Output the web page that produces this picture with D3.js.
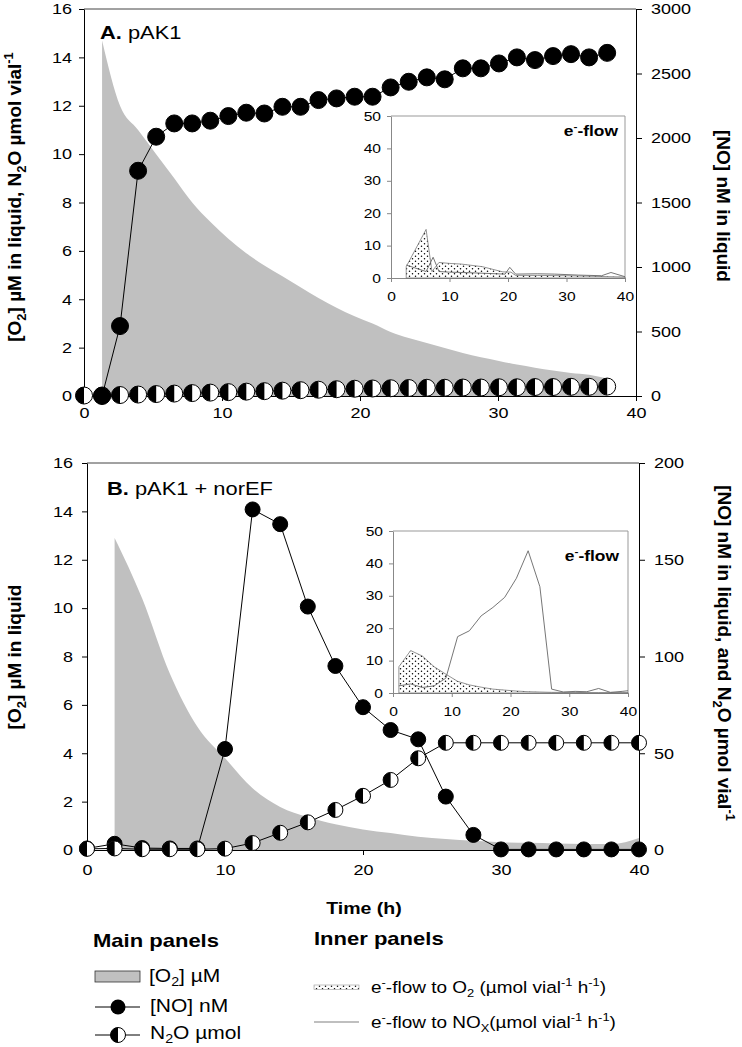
<!DOCTYPE html>
<html><head><meta charset="utf-8">
<script src="https://cdn.jsdelivr.net/npm/d3@7"></script>
<style>body{margin:0;background:#fff}svg{display:block}</style>
</head><body><svg id="c" width="742" height="1047"></svg>
<script>
// ---------- DATA ----------
const xTicks = [0, 10, 20, 30, 40];
const leftTicks = [0, 2, 4, 6, 8, 10, 12, 14, 16];
const rightTicksA = [0, 500, 1000, 1500, 2000, 2500, 3000];
const rightTicksB = [0, 50, 100, 150, 200];
const insetXTicks = [0, 10, 20, 30, 40];
const insetYTicks = [0, 10, 20, 30, 40, 50];

// Panel A (pAK1)
const timeA = [0, 1.31, 2.61, 3.92, 5.23, 6.54, 7.84, 9.15, 10.46, 11.76, 13.07, 14.38, 15.69, 16.99, 18.3,
  19.61, 20.91, 22.22, 23.53, 24.84, 26.14, 27.45, 28.76, 30.07, 31.37, 32.68, 33.99, 35.29, 36.6, 37.91];
const o2TimeA = timeA.slice(1);
const o2A = [14.7, 12.0, 11.0, 10.0, 9.0, 8.0, 7.2, 6.5, 5.9, 5.4, 4.95, 4.5, 4.05, 3.65, 3.3, 3.0, 2.65, 2.4,
  2.19, 1.98, 1.78, 1.6, 1.45, 1.3, 1.17, 1.05, 0.95, 0.88, 0.72];
const noTimeA = timeA.slice(1);
const noA = [0, 542, 1746, 2010, 2113, 2113, 2134, 2170, 2196, 2190, 2242, 2242, 2294, 2307, 2320, 2320, 2392,
  2436, 2470, 2455, 2540, 2540, 2578, 2625, 2604, 2635, 2650, 2625, 2660];
const n2oA = [0.02, 0.02, 0.04, 0.06, 0.08, 0.1, 0.12, 0.14, 0.16, 0.18, 0.2, 0.22, 0.24, 0.26, 0.28, 0.3, 0.31,
  0.32, 0.33, 0.34, 0.34, 0.35, 0.35, 0.36, 0.36, 0.37, 0.37, 0.38, 0.38, 0.39];
// Inset A (e- flow)
const flowO2TimeA = [2.6, 6.0, 7.0, 8.2, 10, 12, 15.6, 19.1, 20.5, 21.3, 25, 30, 35, 40];
const flowO2A = [3.5, 15.0, 2.0, 4.8, 4.5, 4.3, 3.5, 1.9, 1.8, 0.8, 0.8, 0.7, 0.5, 0.3];
const flowNoxTimeA = [2.6, 6.0, 7.2, 8.2, 10, 14, 18, 19.5, 20.3, 21.3, 25, 28, 32, 36, 37.6, 40];
const flowNoxA = [4.0, 2.0, 6.4, 2.0, 1.8, 1.6, 1.3, 1.2, 3.3, 1.2, 1.3, 1.2, 0.9, 0.7, 1.7, 0.4];

// Panel B (pAK1 + norEF)
const timeB = [0, 2, 4, 6, 8, 10, 12, 14, 16, 18, 20, 22, 24, 26, 28, 30, 32, 34, 36, 38, 40];
const o2TimeB = timeB.slice(1);
const o2B = [12.9, 10.4, 7.3, 5.1, 3.8, 2.55, 1.78, 1.36, 1.06, 0.85, 0.7, 0.55, 0.45, 0.38, 0.32, 0.3, 0.27,
  0.25, 0.25, 0.5];
const noB = [0.8, 3.2, 1.0, 0.8, 0.8, 52.2, 176, 168.4, 125.8, 95.1, 73.8, 62.0, 57.2, 27.6, 7.8, 0.3, 0.3, 0.3,
  0.3, 0.3, 0.3];
const n2oB = [0.6, 0.8, 0.4, 0.4, 0.4, 0.7, 3.6, 8.9, 14.3, 20.7, 28.0, 36.2, 47.4, 55.4, 55.4, 55.4, 55.4, 55.4,
  55.4, 55.4, 55.4];
// Inset B (e- flow)
const flowTimeB = [1, 3, 5, 7, 9, 11, 13, 15, 17, 19, 21, 23, 25, 27, 29, 31, 33, 35, 37, 39, 40];
const flowO2B = [8.1, 13.1, 11.4, 8.1, 5.8, 3.6, 2.5, 1.8, 1.2, 0.9, 0.6, 0.4, 0.3, 0.2, 0.2, 0.2, 0.1, 0.1, 0.1,
  0.1, 0.1];
const flowNoxB = [2.2, 2.8, 1.7, 2.2, 4.6, 17.4, 19.2, 23.8, 26.4, 29.5, 35.4, 43.9, 32.8, 1.2, 0.3, 0.5, 0.4, 1.4,
  0.2, 0.5, 0.7];

// ---------- DRAWING ----------
const FONT = '"Liberation Sans", Arial, Helvetica, sans-serif';
const svg = d3.select("#c").attr("font-family", FONT);
const zip = (a, b) => a.map((t, i) => [t, b[i]]);

const defs = svg.append("defs");
const pat = defs.append("pattern").attr("id", "dots").attr("patternUnits", "userSpaceOnUse")
  .attr("width", 6).attr("height", 5);
pat.append("rect").attr("width", 6).attr("height", 5).attr("fill", "#fff");
pat.append("circle").attr("cx", 1.5).attr("cy", 1.2).attr("r", 0.75).attr("fill", "#000");
pat.append("circle").attr("cx", 4.5).attr("cy", 3.7).attr("r", 0.75).attr("fill", "#000");

function richText(parent, segs, fs, opts = {}) {
  const t = parent.append("text").attr("font-size", fs).style("white-space", "pre").attr("fill", "#000");
  if (opts.anchor) t.attr("text-anchor", opts.anchor);
  if (opts.bold) t.attr("font-weight", "bold");
  if (opts.transform) t.attr("transform", opts.transform);
  let shift = 0;
  segs.forEach(s => {
    const target = s.sub ? fs * 0.25 : s.sup ? -fs * 0.4 : 0;
    const sp = t.append("tspan").text(s.t);
    if (target - shift !== 0) sp.attr("dy", target - shift);
    if (s.sub || s.sup) sp.attr("font-size", fs * 0.68);
    if (s.w) sp.attr("font-weight", s.w);
    shift = target;
  });
  return t;
}

function stretchTicks(g, s) {
  g.selectAll(".tick text").each(function () {
    const t = d3.select(this);
    const x = +t.attr("x") || 0;
    t.attr("x", 0).attr("transform", `translate(${x},0) scale(${s},1)`);
  });
}

function styleAxis(g, fs, color) {
  g.attr("font-family", FONT).attr("font-size", fs);
  g.selectAll(".domain").attr("stroke", color);
  g.selectAll(".tick line").attr("stroke", color);
  g.selectAll(".tick text").attr("fill", "#000");
}

function drawNO(g, pts, x, y, r) {
  g.append("path").datum(pts).attr("d", d3.line().x(d => x(d[0])).y(d => y(d[1])))
    .attr("fill", "none").attr("stroke", "#000").attr("stroke-width", 1);
  g.selectAll(null).data(pts).join("circle").attr("cx", d => x(d[0])).attr("cy", d => y(d[1]))
    .attr("r", r).attr("fill", "#000").attr("stroke", "#000");
}
function halfMarker(g, cx, cy, r) {
  const m = g.append("g").attr("transform", `translate(${cx},${cy})`);
  m.append("circle").attr("r", r).attr("fill", "#fff").attr("stroke", "#000").attr("stroke-width", 1);
  m.append("path").attr("d", `M0,${-r}A${r},${r} 0 0 0 0,${r}Z`).attr("fill", "#000");
}
function drawN2O(g, pts, x, y, r) {
  g.append("path").datum(pts).attr("d", d3.line().x(d => x(d[0])).y(d => y(d[1])))
    .attr("fill", "none").attr("stroke", "#000").attr("stroke-width", 1);
  pts.forEach(d => halfMarker(g, x(d[0]), y(d[1]), r));
}

function inset(cfg) {
  const g = svg.append("g");
  const x = d3.scaleLinear().domain([0, 40]).range([cfg.l, cfg.r]);
  const y = d3.scaleLinear().domain([0, 50]).range([cfg.b, cfg.t]);
  const ax = g.append("g").attr("transform", `translate(0,${cfg.b})`)
    .call(d3.axisBottom(x).tickValues(insetXTicks).tickSize(4).tickPadding(10).tickSizeOuter(0));
  const ay = g.append("g").attr("transform", `translate(${cfg.l},0)`)
    .call(d3.axisLeft(y).tickValues(insetYTicks).tickSize(4).tickPadding(6).tickSizeOuter(0));
  [ax, ay].forEach(a => { styleAxis(a, 13, "#888"); stretchTicks(a, 1.2); });
  g.append("path").attr("d", `M${cfg.l},${cfg.t}H${cfg.r}V${cfg.b}`).attr("fill", "none").attr("stroke", "#999");
  const o2 = zip(cfg.o2t, cfg.o2v);
  g.append("path").datum(o2).attr("d", d3.area().x(d => x(d[0])).y0(y(0)).y1(d => y(d[1])))
    .attr("fill", "url(#dots)").attr("stroke", "#666").attr("stroke-width", 0.7);
  g.append("path").datum(zip(cfg.noxt, cfg.noxv)).attr("d", d3.line().x(d => x(d[0])).y(d => y(d[1])))
    .attr("fill", "none").attr("stroke", "#666").attr("stroke-width", 0.9);
  richText(g, [{ t: "e" }, { t: "-", sup: true }, { t: "-flow" }], 14.5,
    { bold: true, anchor: "end", transform: `translate(${cfg.labX},${cfg.labY}) scale(1.2,1)` });
}

function panel(cfg) {
  const g = svg.append("g");
  const x = d3.scaleLinear().domain([0, 40]).range([cfg.l, cfg.r]);
  const yL = d3.scaleLinear().domain([0, 16]).range([cfg.b, cfg.t]);
  const yR = d3.scaleLinear().domain(cfg.rDomain).range([cfg.b, cfg.t]);
  // O2 area
  g.append("path").datum(zip(cfg.o2t, cfg.o2v))
    .attr("d", d3.area().curve(d3.curveMonotoneX).x(d => x(d[0])).y0(yL(0)).y1(d => yL(d[1])))
    .attr("fill", "#c0c0c0");
  // frame top
  g.append("line").attr("x1", cfg.l).attr("x2", cfg.r).attr("y1", cfg.t).attr("y2", cfg.t)
    .attr("stroke", "#444").attr("stroke-width", 1);
  const axB = g.append("g").attr("transform", `translate(0,${cfg.b})`)
    .call(d3.axisBottom(x).tickValues(xTicks).tickSize(5).tickPadding(cfg.xpad).tickSizeOuter(0));
  const axL = g.append("g").attr("transform", `translate(${cfg.l},0)`)
    .call(d3.axisLeft(yL).tickValues(leftTicks).tickSize(5).tickPadding(cfg.lpad).tickSizeOuter(0));
  const axR = g.append("g").attr("transform", `translate(${cfg.r},0)`)
    .call(d3.axisRight(yR).tickValues(cfg.rTicks).tickFormat(d3.format("d")).tickSize(6)
      .tickPadding(cfg.rpad).tickSizeOuter(0));
  [axB, axL, axR].forEach(a => { styleAxis(a, 15, "#000"); stretchTicks(a, 1.2); });

  inset(cfg.inset);

  const yN2O = cfg.n2oRight ? yR : yL;
  const noPts = zip(cfg.noT, cfg.no);
  const n2oPts = zip(cfg.n2oT, cfg.n2o);
  if (cfg.noOnTop) { drawN2O(g, n2oPts, x, yN2O, cfg.r0); drawNO(g, noPts, x, yR, cfg.r0); }
  else { drawNO(g, noPts, x, yR, cfg.r0); drawN2O(g, n2oPts, x, yN2O, cfg.r0); }

  richText(g, cfg.label, 17.5, { transform: `translate(${cfg.labX},${cfg.labY}) scale(1.25,1)` });
  richText(g, cfg.leftTitle, 19, { bold: true, anchor: "middle",
    transform: `translate(${cfg.ltX},${cfg.ltY}) rotate(-90)` });
  richText(g, cfg.rightTitle, 19, { bold: true, anchor: "middle",
    transform: `translate(${cfg.rtX},${cfg.rtY}) rotate(90)` });
}

panel({
  l: 84, r: 636, t: 9, b: 396, rDomain: [0, 3000], rTicks: rightTicksA,
  xpad: 6, lpad: 7, rpad: 9, r0: 8.5,
  o2t: o2TimeA, o2v: o2A, noT: noTimeA, no: noA, n2oT: timeA, n2o: n2oA, n2oRight: false, noOnTop: true,
  label: [{ t: "A.", w: "bold" }, { t: " pAK1" }], labX: 100, labY: 39,
  leftTitle: [{ t: "[O" }, { t: "2", sub: true }, { t: "] µM in liquid, N" }, { t: "2", sub: true },
    { t: "O µmol vial" }, { t: "-1", sup: true }], ltX: 21, ltY: 197,
  rightTitle: [{ t: "[NO] nM in liquid" }], rtX: 717, rtY: 206,
  inset: { l: 391, r: 625, t: 116, b: 278, o2t: flowO2TimeA, o2v: flowO2A, noxt: flowNoxTimeA, noxv: flowNoxA,
    labX: 618, labY: 136 }
});

panel({
  l: 87, r: 639, t: 463, b: 850, rDomain: [0, 200], rTicks: rightTicksB,
  xpad: 9, lpad: 9, rpad: 9, r0: 7.5,
  o2t: o2TimeB, o2v: o2B, noT: timeB, no: noB, n2oT: timeB, n2o: n2oB, n2oRight: true, noOnTop: false,
  label: [{ t: "B.", w: "bold" }, { t: " pAK1 + norEF" }], labX: 107, labY: 495,
  leftTitle: [{ t: "[O" }, { t: "2", sub: true }, { t: "] µM in liquid" }], ltX: 21, ltY: 657,
  rightTitle: [{ t: "[NO] nM in liquid, and N" }, { t: "2", sub: true }, { t: "O µmol vial" },
    { t: "-1", sup: true }], rtX: 718, rtY: 653,
  inset: { l: 393, r: 628, t: 531, b: 693, o2t: flowTimeB, o2v: flowO2B, noxt: flowTimeB, noxv: flowNoxB,
    labX: 619, labY: 561 }
});

// x title
richText(svg, [{ t: "Time (h)" }], 17, { bold: true, anchor: "middle", transform: "translate(364,914) scale(1.15,1)" });

// ---------- LEGEND ----------
const lg = svg.append("g");
richText(lg, [{ t: "Main panels" }], 18.5, { bold: true, transform: "translate(93,947) scale(1.19,1)" });
richText(lg, [{ t: "Inner panels" }], 18.5, { bold: true, transform: "translate(314,945) scale(1.19,1)" });
lg.append("rect").attr("x", 95).attr("y", 971).attr("width", 45).attr("height", 11)
  .attr("fill", "#c0c0c0").attr("stroke", "#333").attr("stroke-width", 0.8);
richText(lg, [{ t: "[O" }, { t: "2", sub: true }, { t: "] µM" }], 17.5, { transform: "translate(149,982) scale(1.2,1)" });
lg.append("line").attr("x1", 95).attr("x2", 140).attr("y1", 1007).attr("y2", 1007).attr("stroke", "#000");
lg.append("circle").attr("cx", 118).attr("cy", 1007).attr("r", 7.5).attr("fill", "#000");
richText(lg, [{ t: "[NO] nM" }], 17.5, { transform: "translate(150,1012) scale(1.2,1)" });
lg.append("line").attr("x1", 95).attr("x2", 140).attr("y1", 1035).attr("y2", 1035).attr("stroke", "#000");
halfMarker(lg, 118, 1035, 7.5);
richText(lg, [{ t: "N" }, { t: "2", sub: true }, { t: "O µmol" }], 17.5, { transform: "translate(150,1039) scale(1.2,1)" });

lg.append("rect").attr("x", 314).attr("y", 985).attr("width", 45).attr("height", 4.5)
  .attr("fill", "url(#dots)").attr("stroke", "#999").attr("stroke-width", 0.6);
richText(lg, [{ t: "e" }, { t: "-", sup: true }, { t: "-flow to O" }, { t: "2", sub: true }, { t: " (µmol vial" },
  { t: "-1", sup: true }, { t: " h" }, { t: "-1", sup: true }, { t: ")" }], 16.5,
  { transform: "translate(371,993) scale(1.15,1)" });
lg.append("line").attr("x1", 314).attr("x2", 359).attr("y1", 1022).attr("y2", 1022)
  .attr("stroke", "#aaa").attr("stroke-width", 1.5);
richText(lg, [{ t: "e" }, { t: "-", sup: true }, { t: "-flow to NO" }, { t: "X", sub: true }, { t: "(µmol vial" },
  { t: "-1", sup: true }, { t: " h" }, { t: "-1", sup: true }, { t: ")" }], 16.5,
  { transform: "translate(371,1028) scale(1.15,1)" });
</script></body></html>
